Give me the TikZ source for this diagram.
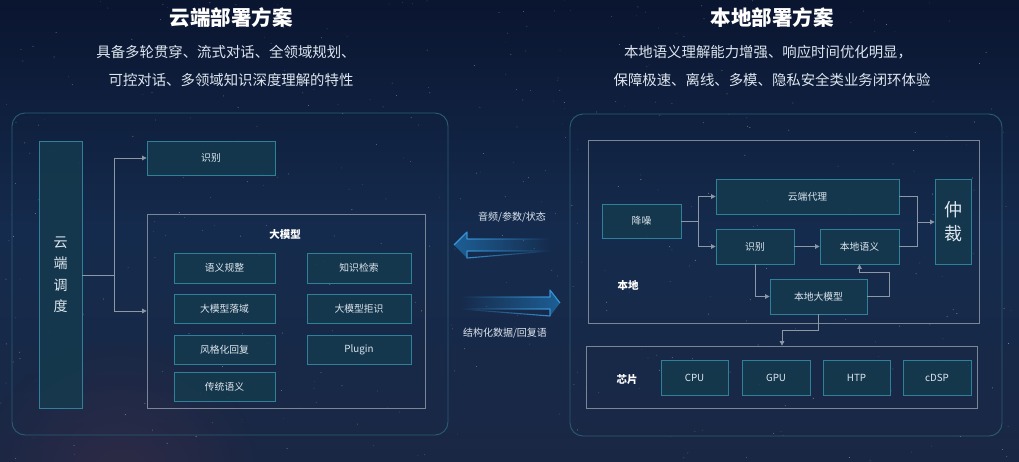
\documentclass[tikz,border=0pt]{standalone}
\usepackage{fontspec}
\setmainfont{Noto Sans CJK SC}
\usetikzlibrary{arrows.meta,fadings,calc}
\definecolor{bgtop}{HTML}{0A1530}
\definecolor{bgmid}{HTML}{152B4D}
\definecolor{bgbot}{HTML}{1A2744}
\definecolor{glow}{HTML}{54324A}
\definecolor{boxfill}{HTML}{153A4E}
\definecolor{boxline}{HTML}{2E8198}
\definecolor{contline}{HTML}{7A8696}
\definecolor{outerline}{HTML}{2A5D74}
\definecolor{conncol}{HTML}{8C98A6}
\definecolor{txt}{HTML}{DDE6EE}
\definecolor{arrfill}{HTML}{1D5F95}
\definecolor{arrline}{HTML}{3B9BE0}
\tikzfading[name=fadeoutR, left color=transparent!0, right color=transparent!100]
\tikzfading[name=fadeoutL, left color=transparent!100, right color=transparent!0]
\tikzset{
  bx/.style={draw=boxline, fill=boxfill, fill opacity=0.85, text opacity=1, line width=0.8pt, inner sep=0pt, text=txt, font=\fontsize{9.8}{11}\selectfont},
  cont/.style={draw=contline, line width=0.7pt, inner sep=0pt},
  outer/.style={draw=outerline, line width=0.9pt, rounded corners=13pt, inner sep=0pt},
  conn/.style={draw=conncol, line width=0.7pt},
  arr/.style={conn, -{Triangle[width=4.5pt,length=4.5pt]}},
  lbl/.style={text=white, font=\bfseries\fontsize{10.5}{12}\selectfont},
  mid/.style={text=txt, font=\fontsize{10}{12}\selectfont},
  ttl/.style={text=white, font=\bfseries\fontsize{20.5}{24}\selectfont},
  sub/.style={text=txt, font=\fontsize{14.4}{16}\selectfont},
}
\begin{document}
\begin{tikzpicture}[x=1pt,y=-1pt]
\useasboundingbox (0,0) rectangle (1019,461);
\shade[top color=bgtop, bottom color=bgbot, middle color=bgmid] (0,0) rectangle (1019,461);
\shade[inner color=glow, outer color=bgbot, opacity=0.35] (120,480) circle (140pt);
\pgfmathsetseed{11}
\foreach \i in {1,...,420}{
  \pgfmathsetmacro\xx{rnd*1019}
  \pgfmathsetmacro\yy{rnd*461}
  \pgfmathsetmacro\oo{0.12+0.45*rnd}
  \fill[white,opacity=\oo] (\xx,\yy) circle (0.45pt);
}
% titles
\node[ttl] (t1) at (231,18) {云端部署方案};
\node[sub] (s1a) at (226,52) {具备多轮贯穿、流式对话、全领域规划、};
\node[sub] (s1b) at (231,80) {可控对话、多领域知识深度理解的特性};
\node[ttl] (t2) at (772,18) {本地部署方案};
\node[sub] (s2a) at (768,52) {本地语义理解能力增强、响应时间优化明显，};
\node[sub] (s2b) at (772,80) {保障极速、离线、多模、隐私安全类业务闭环体验};

% left panel
\node[outer, minimum width=436pt, minimum height=322pt] (oL) at (230,274) {};
\node[bx, minimum width=43pt, minimum height=267pt, align=center, font=\fontsize{14}{21.5}\selectfont] (dd) at (60.5,274.5) {云\\端\\调\\度};
\node[bx, minimum width=128pt, minimum height=34pt] (sbL) at (211,158) {识别};
\node[cont, minimum width=278pt, minimum height=194pt] (bm) at (286,311) {};
\node[lbl] (bmt) at (285,235) {大模型};
\node[bx, minimum width=101pt, minimum height=30pt] (a1) at (224.5,268) {语义规整};
\node[bx, minimum width=104pt, minimum height=30pt] (b1) at (359,268) {知识检索};
\node[bx, minimum width=101pt, minimum height=29pt] (a2) at (224.5,308.5) {大模型落域};
\node[bx, minimum width=104pt, minimum height=29pt] (b2) at (359,308.5) {大模型拒识};
\node[bx, minimum width=101pt, minimum height=29pt] (a3) at (224.5,349.5) {风格化回复};
\node[bx, minimum width=104pt, minimum height=29pt] (b3) at (359,349.5) {Plugin};
\node[bx, minimum width=101pt, minimum height=29pt] (a4) at (224.5,386.5) {传统语义};
\coordinate (jL) at (114,275);
\draw[conn] (dd.east |- jL) -- (jL);
\draw[arr] (jL) |- (sbL.west);
\draw[arr] (jL) |- (bm.west);

% middle arrows
\node[mid] (m1) at (512,217) {音频/参数/状态};
\node[mid] (m2) at (505,333) {结构化数据/回复语};
\coordinate (la) at (454,245);
\coordinate (ra) at (560,303);
\fill[arrfill, path fading=fadeoutR] (la) -- ++(13,-13) -- ++(0,7) -- ++(83,0) -- ++(0,12) -- ++(-83,0) -- ++(0,7) -- cycle;
\draw[arrline, line width=1.1pt, path fading=fadeoutR, line join=round] (la) -- ++(13,-13) -- ++(0,7) -- ++(83,0) ++(0,12) -- ++(-83,0) -- ++(0,7) -- cycle;
\fill[arrfill, path fading=fadeoutL] (ra) -- ++(-10,-13) -- ++(0,7) -- ++(-90,0) -- ++(0,12) -- ++(90,0) -- ++(0,7) -- cycle;
\draw[arrline, line width=1.1pt, path fading=fadeoutL, line join=round] (ra) -- ++(-10,-13) -- ++(0,7) -- ++(-90,0) ++(0,12) -- ++(90,0) -- ++(0,7) -- cycle;

% right panel
\node[outer, minimum width=432pt, minimum height=322pt] (oR) at (786,275) {};
\node[cont, minimum width=391pt, minimum height=183pt] (bd) at (783.5,231.5) {};
\node[lbl] (bdl) at (628,286) {本地};
\node[bx, minimum width=79pt, minimum height=34pt] (jz) at (641.5,221) {降噪};
\node[bx, minimum width=183pt, minimum height=35pt] (yd) at (807.5,196.5) {云端代理};
\node[bx, minimum width=78pt, minimum height=35pt] (sbR) at (755,246.5) {识别};
\node[bx, minimum width=79pt, minimum height=35pt] (yy) at (859.5,246.5) {本地语义};
\node[bx, minimum width=36pt, minimum height=85pt, align=center, font=\fontsize{18}{24}\selectfont] (zc) at (953,221.5) {仲\\裁};
\node[bx, minimum width=97pt, minimum height=35pt] (dm) at (818.5,296.5) {本地大模型};
\node[cont, minimum width=391pt, minimum height=62pt] (chip) at (781.5,377) {};
\node[lbl] (chipl) at (627,380) {芯片};
\node[bx, minimum width=67pt, minimum height=35pt] (cpu) at (694.5,377.5) {CPU};
\node[bx, minimum width=68pt, minimum height=35pt] (gpu) at (776,377.5) {GPU};
\node[bx, minimum width=67pt, minimum height=35pt] (htp) at (856.5,377.5) {HTP};
\node[bx, minimum width=68pt, minimum height=35pt] (dsp) at (937,377.5) {cDSP};
\coordinate (jA) at (698,221);
\draw[conn] (jz.east) -- (jA);
\draw[arr] (jA) |- (yd.west);
\draw[arr] (jA) |- (sbR.west);
\draw[arr] (sbR.east) -- (yy.west);
\draw[arr] (sbR.south) |- (dm.west);
\coordinate (k1) at (889,272);
\draw[arr] (dm.east) -| (k1) -| (yy.south);
\coordinate (jB) at (917,222);
\draw[conn] (yd.east) -| (jB);
\draw[conn] (yy.east) -| (jB);
\draw[arr] (jB) -- (zc.west |- jB);
\coordinate (k2) at (782,330);
\draw[arr] (dm.south) |- (k2) -- (k2 |- chip.north);
\end{tikzpicture}
\end{document}
